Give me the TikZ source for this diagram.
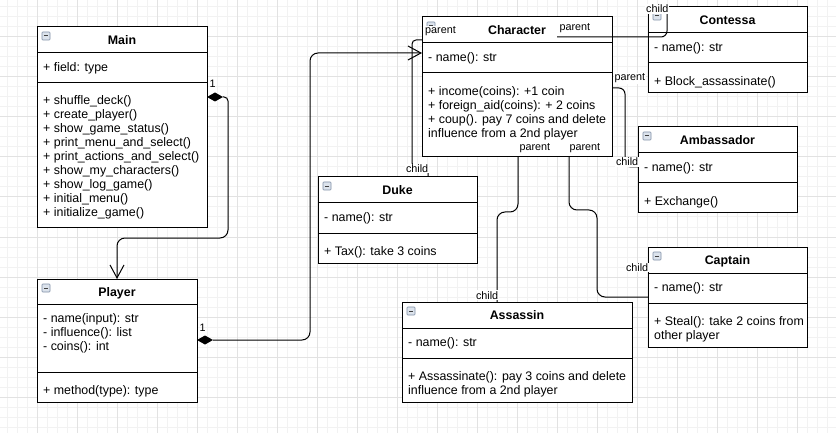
\documentclass[tikz,border=0pt]{standalone}
\usepackage{fontspec}
\setmainfont{Liberation Sans}
\usetikzlibrary{calc,arrows.meta}
\definecolor{gridminor}{HTML}{F2F2F2}
\definecolor{gridmajor}{HTML}{E2E2E2}
\definecolor{iconfill}{HTML}{DCE3EC}
\definecolor{iconborder}{HTML}{7F8FA6}
\newcommand\umlbox[7]{%
  \node[box, minimum width=#4pt, minimum height=#5pt] (#1) at (#2,#3) {};
  \draw[sepline] ($(#1.north west)+(0,#6)$) -- ($(#1.north east)+(0,#6)$);
  \draw[sepline] ($(#1.north west)+(0,#7)$) -- ($(#1.north east)+(0,#7)$);
  \node[icon] (#1-icon) at ($(#1.north west)+(9,9)$) {\textcolor{black!75}{\rule{4.5pt}{1pt}}};
}
\begin{document}
\begin{tikzpicture}[x=1pt,y=-1pt,
  box/.style={draw=black, line width=1pt, fill=white, inner sep=0pt, outer sep=0pt, anchor=north west},
  sepline/.style={line width=1pt},
  icon/.style={draw=iconborder, fill=iconfill, line width=0.6pt, minimum size=8pt, inner sep=0pt, rounded corners=0.8pt},
  title/.style={font=\fontsize{12.4}{14}\selectfont\bfseries, anchor=base, inner sep=0pt},
  txt/.style={font=\fontsize{12.4}{14}\selectfont, anchor=north west, align=left, inner sep=0pt, yshift=-0.8pt},
  lbl/.style={font=\fontsize{10.8}{12}\selectfont, anchor=base west, fill=white, inner sep=0.8pt},
  conn/.style={draw=black, line width=1pt, rounded corners=7pt},
  openarrow/.style={-{Straight Barb[length=13pt,width=14pt]}},
]
\useasboundingbox[fill=white] (0,0) rectangle (836,433);
% grid
\foreach \x in {7,17,...,827} \draw[gridminor, line width=1pt] (\x,0) -- (\x,433);
\foreach \y in {7,17,...,427} \draw[gridminor, line width=1pt] (0,\y) -- (836,\y);
\foreach \x in {37,77,...,797} \draw[gridmajor, line width=1pt] (\x,0) -- (\x,433);
\foreach \y in {37,77,...,397} \draw[gridmajor, line width=1pt] (0,\y) -- (836,\y);

% classes
\umlbox{main}{37}{27}{170}{200}{26}{56}
\node[title] (main-title) at ($(main.north)+(0,17.5)$) {Main};
\node[txt] (main-attr) at (43,61.8) {+ field: type};
\node[txt] (main-ops) at (43,94.8) {+ shuffle\_deck()\\+ create\_player()\\+ show\_game\_status()\\+ print\_menu\_and\_select()\\+ print\_actions\_and\_select()\\+ show\_my\_characters()\\+ show\_log\_game()\\+ initial\_menu()\\+ initialize\_game()};

\umlbox{player}{37}{279}{160}{123}{25}{93}
\node[title] (player-title) at ($(player.north)+(0,17)$) {Player};
\node[txt] (player-attr) at (43,312.8) {- name(input): str\\- influence(): list\\- coins(): int};
\node[txt] (player-ops) at (43,384.8) {+ method(type): type};

\umlbox{character}{422}{17}{190}{140}{26}{56}
\node[title] (character-title) at ($(character.north)+(0,17.5)$) {Character};
\node[txt] (character-attr) at (428,51.8) {- name(): str};
\node[txt] (character-ops) at (428,85.8) {+ income(coins): +1 coin\\+ foreign\_aid(coins): + 2 coins\\+ coup(). pay 7 coins and delete\\influence from a 2nd player};

\umlbox{contessa}{648}{7}{159}{86}{26}{56}
\node[title] (contessa-title) at ($(contessa.north)+(0,17.5)$) {Contessa};
\node[txt] (contessa-attr) at (654,41.8) {- name(): str};
\node[txt] (contessa-ops) at (654,75.8) {+ Block\_assassinate()};

\umlbox{ambassador}{638}{127}{159}{86}{26}{56}
\node[title] (ambassador-title) at ($(ambassador.north)+(0,17.5)$) {Ambassador};
\node[txt] (ambassador-attr) at (644,161.8) {- name(): str};
\node[txt] (ambassador-ops) at (644,195.8) {+ Exchange()};

\umlbox{duke}{318}{177}{159}{86}{26}{56}
\node[title] (duke-title) at ($(duke.north)+(0,17.5)$) {Duke};
\node[txt] (duke-attr) at (324,211.8) {- name(): str};
\node[txt] (duke-ops) at (324,245.8) {+ Tax(): take 3 coins};

\umlbox{captain}{648}{247}{159}{100}{26}{56}
\node[title] (captain-title) at ($(captain.north)+(0,17.5)$) {Captain};
\node[txt] (captain-attr) at (654,281.8) {- name(): str};
\node[txt] (captain-ops) at (654,315.8) {+ Steal(): take 2 coins from\\other player};

\umlbox{assassin}{402}{302}{230}{100}{26}{56}
\node[title] (assassin-title) at ($(assassin.north)+(0,17.5)$) {Assassin};
\node[txt] (assassin-attr) at (408,336.8) {- name(): str};
\node[txt] (assassin-ops) at (408,370.8) {+ Assassinate(): pay 3 coins and delete\\influence from a 2nd player};

% Main -> Player (composition)
\coordinate (mp-s) at (main.east |- 0,97);
\fill (mp-s) -- ++(8,-4.5) -- ++(8,4.5) -- ++(-8,4.5) -- cycle;
\draw[conn, openarrow, rounded corners=4pt] ($(mp-s)+(16,0)$) -- (228,97) [rounded corners=8pt] -- (228,238) -- (player.north |- 0,238) -- (player.north);

% Player -> Character (composition)
\coordinate (pc-s) at (player.east |- 0,340);
\fill (pc-s) -- ++(8,-4.5) -- ++(8,4.5) -- ++(-8,4.5) -- cycle;
\draw[conn, openarrow, rounded corners=8pt] ($(pc-s)+(16,0)$) -- (310,340) -- (310,53) -- (character.west |- 0,53);

% Duke -> Character
\draw[conn, rounded corners=4pt] (duke.north -| 428,0) -- (428,167) -- (412,167) -- (412,40) -- (character.west |- 0,40);

% Contessa -> Character
\coordinate (cont-src) at (557,37);
\draw[conn, rounded corners=6pt] (cont-src) -- (667,37) -- (contessa.north -| 667,0);

% Ambassador -> Character
\draw[conn, rounded corners=6pt] (character.east |- 0,88) -- (625,88) -- (625,167) -- (ambassador.west |- 0,167);

% Captain -> Character
\draw[conn, rounded corners=8pt] (character.south -| 569,0) -- (569,210) -- (597,210) -- (597,297) -- (captain.west |- 0,297);

% Assassin -> Character
\draw[conn, rounded corners=8pt] (character.south -| 518,0) -- (518,212) -- (497,212) -- (assassin.north -| 497,0);

% labels
\node[lbl] (l-p1) at (424.2,34) {parent};
\node[lbl] (l-p2) at (558.5,31) {parent};
\node[lbl] (l-p3) at (613.5,81) {parent};
\node[lbl] (l-p4) at (518.5,151) {parent};
\node[lbl] (l-p5) at (568.5,151) {parent};
\node[lbl] (l-c1) at (405,172.5) {child};
\node[lbl] (l-c2) at (645.2,13) {child};
\node[lbl] (l-c3) at (615,166) {child};
\node[lbl] (l-c4) at (625,271.5) {child};
\node[lbl] (l-c5) at (475,299) {child};
\node[lbl, fill=none] (l-one1) at (208.5,88) {1};
\node[lbl, fill=none] (l-one2) at (198.5,331.5) {1};
\end{tikzpicture}
\end{document}
